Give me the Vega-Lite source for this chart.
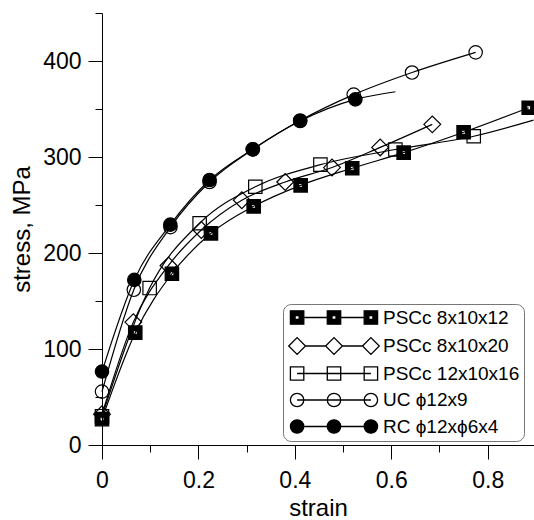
{
  "$schema": "https://vega.github.io/schema/vega-lite/v6.json",
  "width": 432,
  "height": 432,
  "autosize": {"type": "none"},
  "padding": {"left": 102, "top": 13, "right": 0, "bottom": 75},
  "background": "white",
  "config": {
    "view": {"stroke": null},
    "font": "Liberation Sans",
    "axis": {
      "grid": false,
      "domainColor": "black",
      "domainWidth": 1,
      "tickColor": "black",
      "tickWidth": 1,
      "labelColor": "black",
      "titleColor": "black",
      "labelFont": "Liberation Sans",
      "titleFont": "Liberation Sans",
      "labelFontSize": 23,
      "titleFontSize": 24,
      "titleFontWeight": "normal",
      "labelFlush": false,
      "labelOverlap": false
    },
    "legend": {
      "orient": "none",
      "legendX": 181,
      "legendY": 291,
      "padding": 4,
      "cornerRadius": 8,
      "strokeColor": "#777777",
      "fillColor": "white",
      "symbolSize": 180,
      "symbolOpacity": 1,
      "symbolStrokeWidth": 1.3,
      "symbolOffset": 37.5,
      "labelOffset": 39.5,
      "labelFont": "Liberation Sans",
      "labelFontSize": 19,
      "labelColor": "black",
      "rowPadding": 6.5
    }
  },
  "datasets": {
    "curves": [
      {"series": "PSCc 8x10x12", "strain": 0, "stress": 27},
      {"series": "PSCc 8x10x12", "strain": 0.069, "stress": 117},
      {"series": "PSCc 8x10x12", "strain": 0.145, "stress": 178.4},
      {"series": "PSCc 8x10x12", "strain": 0.226, "stress": 220.5},
      {"series": "PSCc 8x10x12", "strain": 0.3146, "stress": 248.6},
      {"series": "PSCc 8x10x12", "strain": 0.412, "stress": 270.5},
      {"series": "PSCc 8x10x12", "strain": 0.519, "stress": 288.3},
      {"series": "PSCc 8x10x12", "strain": 0.6257, "stress": 304.5},
      {"series": "PSCc 8x10x12", "strain": 0.75, "stress": 325.8},
      {"series": "PSCc 8x10x12", "strain": 0.885, "stress": 351.3},
      {"series": "PSCc 8x10x20", "strain": 0, "stress": 32},
      {"series": "PSCc 8x10x20", "strain": 0.065, "stress": 128},
      {"series": "PSCc 8x10x20", "strain": 0.138, "stress": 187},
      {"series": "PSCc 8x10x20", "strain": 0.206, "stress": 224},
      {"series": "PSCc 8x10x20", "strain": 0.29, "stress": 255},
      {"series": "PSCc 8x10x20", "strain": 0.38, "stress": 274},
      {"series": "PSCc 8x10x20", "strain": 0.477, "stress": 289},
      {"series": "PSCc 8x10x20", "strain": 0.577, "stress": 310},
      {"series": "PSCc 8x10x20", "strain": 0.685, "stress": 334},
      {"series": "PSCc 12x10x16", "strain": 0, "stress": 30},
      {"series": "PSCc 12x10x16", "strain": 0.0988, "stress": 163.5},
      {"series": "PSCc 12x10x16", "strain": 0.2025, "stress": 231},
      {"series": "PSCc 12x10x16", "strain": 0.318, "stress": 269},
      {"series": "PSCc 12x10x16", "strain": 0.453, "stress": 292},
      {"series": "PSCc 12x10x16", "strain": 0.6085, "stress": 307.8},
      {"series": "PSCc 12x10x16", "strain": 0.771, "stress": 321.6},
      {"series": "PSCc 12x10x16", "strain": 0.895, "stress": 338.4},
      {"series": "UC ϕ12x9", "strain": 0, "stress": 55.6},
      {"series": "UC ϕ12x9", "strain": 0.066, "stress": 161.7},
      {"series": "UC ϕ12x9", "strain": 0.142, "stress": 227},
      {"series": "UC ϕ12x9", "strain": 0.223, "stress": 274},
      {"series": "UC ϕ12x9", "strain": 0.313, "stress": 308},
      {"series": "UC ϕ12x9", "strain": 0.411, "stress": 338},
      {"series": "UC ϕ12x9", "strain": 0.522, "stress": 365},
      {"series": "UC ϕ12x9", "strain": 0.643, "stress": 388},
      {"series": "UC ϕ12x9", "strain": 0.775, "stress": 409},
      {"series": "RC ϕ12xϕ6x4", "strain": 0, "stress": 76.5},
      {"series": "RC ϕ12xϕ6x4", "strain": 0.067, "stress": 172},
      {"series": "RC ϕ12xϕ6x4", "strain": 0.1417, "stress": 229.5},
      {"series": "RC ϕ12xϕ6x4", "strain": 0.2232, "stress": 276},
      {"series": "RC ϕ12xϕ6x4", "strain": 0.3125, "stress": 308},
      {"series": "RC ϕ12xϕ6x4", "strain": 0.411, "stress": 337.5},
      {"series": "RC ϕ12xϕ6x4", "strain": 0.5255, "stress": 360},
      {"series": "RC ϕ12xϕ6x4", "strain": 0.6085, "stress": 368}
    ],
    "markers": [
      {"series": "PSCc 8x10x12", "strain": 0, "stress": 27},
      {"series": "PSCc 8x10x12", "strain": 0.069, "stress": 117},
      {"series": "PSCc 8x10x12", "strain": 0.145, "stress": 178.4},
      {"series": "PSCc 8x10x12", "strain": 0.226, "stress": 220.5},
      {"series": "PSCc 8x10x12", "strain": 0.3146, "stress": 248.6},
      {"series": "PSCc 8x10x12", "strain": 0.412, "stress": 270.5},
      {"series": "PSCc 8x10x12", "strain": 0.519, "stress": 288.3},
      {"series": "PSCc 8x10x12", "strain": 0.6257, "stress": 304.5},
      {"series": "PSCc 8x10x12", "strain": 0.75, "stress": 325.8},
      {"series": "PSCc 8x10x12", "strain": 0.885, "stress": 351.3},
      {"series": "PSCc 8x10x20", "strain": 0, "stress": 32},
      {"series": "PSCc 8x10x20", "strain": 0.065, "stress": 128},
      {"series": "PSCc 8x10x20", "strain": 0.138, "stress": 187},
      {"series": "PSCc 8x10x20", "strain": 0.206, "stress": 224},
      {"series": "PSCc 8x10x20", "strain": 0.29, "stress": 255},
      {"series": "PSCc 8x10x20", "strain": 0.38, "stress": 274},
      {"series": "PSCc 8x10x20", "strain": 0.477, "stress": 289},
      {"series": "PSCc 8x10x20", "strain": 0.577, "stress": 310},
      {"series": "PSCc 8x10x20", "strain": 0.685, "stress": 334},
      {"series": "PSCc 12x10x16", "strain": 0, "stress": 30},
      {"series": "PSCc 12x10x16", "strain": 0.0988, "stress": 163.5},
      {"series": "PSCc 12x10x16", "strain": 0.2025, "stress": 231},
      {"series": "PSCc 12x10x16", "strain": 0.318, "stress": 269},
      {"series": "PSCc 12x10x16", "strain": 0.453, "stress": 292},
      {"series": "PSCc 12x10x16", "strain": 0.6085, "stress": 307.8},
      {"series": "PSCc 12x10x16", "strain": 0.771, "stress": 321.6},
      {"series": "UC ϕ12x9", "strain": 0, "stress": 55.6},
      {"series": "UC ϕ12x9", "strain": 0.066, "stress": 161.7},
      {"series": "UC ϕ12x9", "strain": 0.142, "stress": 227},
      {"series": "UC ϕ12x9", "strain": 0.223, "stress": 274},
      {"series": "UC ϕ12x9", "strain": 0.313, "stress": 308},
      {"series": "UC ϕ12x9", "strain": 0.411, "stress": 338},
      {"series": "UC ϕ12x9", "strain": 0.522, "stress": 365},
      {"series": "UC ϕ12x9", "strain": 0.643, "stress": 388},
      {"series": "UC ϕ12x9", "strain": 0.775, "stress": 409},
      {"series": "RC ϕ12xϕ6x4", "strain": 0, "stress": 76.5},
      {"series": "RC ϕ12xϕ6x4", "strain": 0.067, "stress": 172},
      {"series": "RC ϕ12xϕ6x4", "strain": 0.1417, "stress": 229.5},
      {"series": "RC ϕ12xϕ6x4", "strain": 0.2232, "stress": 276},
      {"series": "RC ϕ12xϕ6x4", "strain": 0.3125, "stress": 308},
      {"series": "RC ϕ12xϕ6x4", "strain": 0.411, "stress": 337.5},
      {"series": "RC ϕ12xϕ6x4", "strain": 0.5255, "stress": 360}
    ]
  },
  "encoding": {
    "x": {
      "field": "strain", "type": "quantitative",
      "scale": {"domain": [0, 0.896], "nice": false, "zero": false},
      "axis": {
        "title": "strain",
        "values": [0, 0.1, 0.2, 0.3, 0.4, 0.5, 0.6, 0.7, 0.8],
        "labelExpr": "round(datum.value * 10) % 2 === 1 ? '' : format(datum.value, '~g')",
        "tickSize": {"condition": {"test": "round(datum.value * 10) % 2 === 1", "value": 7}, "value": 14},
        "labelPadding": 10,
        "titlePadding": 4
      }
    },
    "y": {
      "field": "stress", "type": "quantitative",
      "scale": {"domain": [0, 450], "nice": false, "zero": false},
      "axis": {
        "title": "stress, MPa",
        "values": [0, 50, 100, 150, 200, 250, 300, 350, 400, 450],
        "labelExpr": "datum.value % 100 === 0 ? datum.label : ''",
        "tickSize": {"condition": {"test": "datum.value % 100 !== 0", "value": 7}, "value": 14},
        "labelPadding": 7,
        "titlePadding": 8
      }
    }
  },
  "resolve": {"scale": {"shape": "independent", "fill": "independent"}},
  "layer": [
    {
      "data": {"name": "curves"},
      "mark": {"type": "line", "interpolate": "monotone", "color": "black", "strokeWidth": 1.2},
      "encoding": {"detail": {"field": "series"}}
    },
    {
      "data": {"name": "markers"},
      "mark": {"type": "point", "stroke": "black", "strokeWidth": 1.2, "opacity": 1, "size": 180},
      "encoding": {
        "shape": {
          "field": "series", "type": "nominal",
          "scale": {
            "domain": ["PSCc 8x10x12", "PSCc 8x10x20", "PSCc 12x10x16", "UC ϕ12x9", "RC ϕ12xϕ6x4"],
            "range": ["M-1,-1H1V1H-1ZM-0.3,-0.3V0.3H0.3V-0.3Z", "M-1.25,0L0,-1.25L1.25,0L0,1.25Z", "square", "circle", "circle"]
          },
          "legend": null
        },
        "fill": {
          "field": "series", "type": "nominal",
          "scale": {
            "domain": ["PSCc 8x10x12", "PSCc 8x10x20", "PSCc 12x10x16", "UC ϕ12x9", "RC ϕ12xϕ6x4"],
            "range": ["black", "transparent", "transparent", "transparent", "black"]
          },
          "legend": null
        }
      }
    },
    {
      "data": {"name": "markers"},
      "mark": {"type": "point", "stroke": "black", "strokeWidth": 1.3, "opacity": 0, "size": 180},
      "encoding": {
        "shape": {
          "field": "series", "type": "nominal",
          "scale": {
            "domain": ["PSCc 8x10x12", "PSCc 8x10x20", "PSCc 12x10x16", "UC ϕ12x9", "RC ϕ12xϕ6x4"],
            "range": [
              "M-6.5,-1H-4.5V1H-6.5ZM-5.8,-0.3V0.3H-5.2V-0.3ZM-1,-1H1V1H-1ZM-0.3,-0.3V0.3H0.3V-0.3ZM4.5,-1H6.5V1H4.5ZM5.2,-0.3V0.3H5.8V-0.3ZM-4.5,0H-1M1,0H4.5",
              "M-6.75,0L-5.5,-1.25L-4.25,0L-5.5,1.25ZM-1.25,0L0,-1.25L1.25,0L0,1.25ZM4.25,0L5.5,-1.25L6.75,0L5.5,1.25ZM-4.25,0H-1.25M1.25,0H4.25",
              "M-6.5,-1H-4.5V1H-6.5ZM-1,-1H1V1H-1ZM4.5,-1H6.5V1H4.5ZM-5.5,0H5.5",
              "M-4.5,0C-4.5,0.55,-4.95,1,-5.5,1C-6.05,1,-6.5,0.55,-6.5,0C-6.5,-0.55,-6.05,-1,-5.5,-1C-4.95,-1,-4.5,-0.55,-4.5,0ZM1,0C1,0.55,0.55,1,0,1C-0.55,1,-1,0.55,-1,0C-1,-0.55,-0.55,-1,0,-1C0.55,-1,1,-0.55,1,0ZM6.5,0C6.5,0.55,6.05,1,5.5,1C4.95,1,4.5,0.55,4.5,0C4.5,-0.55,4.95,-1,5.5,-1C6.05,-1,6.5,-0.55,6.5,0ZM-5.5,0H5.5",
              "M-4.5,0C-4.5,0.55,-4.95,1,-5.5,1C-6.05,1,-6.5,0.55,-6.5,0C-6.5,-0.55,-6.05,-1,-5.5,-1C-4.95,-1,-4.5,-0.55,-4.5,0ZM1,0C1,0.55,0.55,1,0,1C-0.55,1,-1,0.55,-1,0C-1,-0.55,-0.55,-1,0,-1C0.55,-1,1,-0.55,1,0ZM6.5,0C6.5,0.55,6.05,1,5.5,1C4.95,1,4.5,0.55,4.5,0C4.5,-0.55,4.95,-1,5.5,-1C6.05,-1,6.5,-0.55,6.5,0ZM-4.5,0H-1M1,0H4.5"
            ]
          },
          "legend": {
            "title": null,
            "encode": {
              "symbols": {
                "stroke": {"value": "black"},
                "strokeWidth": {"value": 1.3}
              }
            }
          }
        },
        "fill": {
          "field": "series", "type": "nominal",
          "scale": {
            "domain": ["PSCc 8x10x12", "PSCc 8x10x20", "PSCc 12x10x16", "UC ϕ12x9", "RC ϕ12xϕ6x4"],
            "range": ["black", "transparent", "transparent", "transparent", "black"]
          },
          "legend": {
            "title": null,
            "encode": {
              "symbols": {
                "stroke": {"value": "black"},
                "strokeWidth": {"value": 1.3}
              }
            }
          }
        }
      }
    }
  ]
}
